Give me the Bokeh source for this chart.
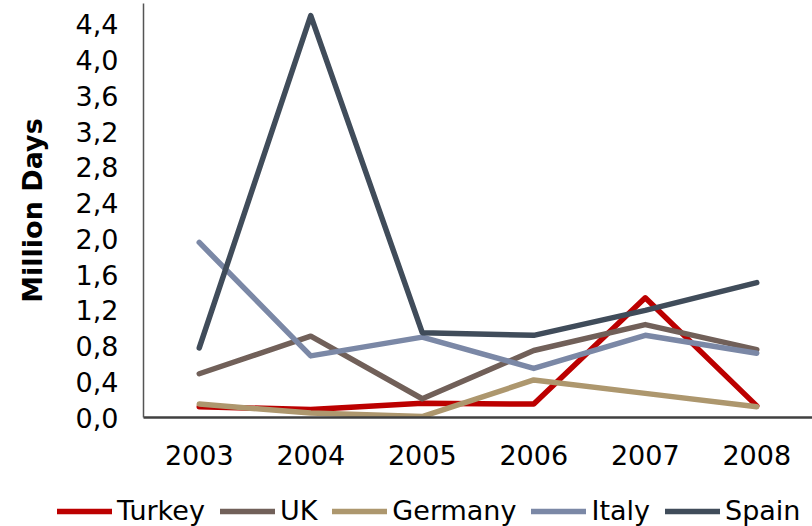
from bokeh.plotting import figure
from bokeh.layouts import column
from bokeh.models import (FactorRange, FixedTicker, CustomJSTickFormatter,
                          Legend, LegendItem, Range1d)
from bokeh.embed import file_html
from bokeh.resources import INLINE

years = ["2003", "2004", "2005", "2006", "2007", "2008"]
turkey = [0.12, 0.09, 0.16, 0.15, 1.34, 0.13]
uk = [0.49, 0.91, 0.21, 0.75, 1.04, 0.76]
germany = [0.15, 0.05, 0.01, 0.42, 0.27, 0.12]
italy = [1.96, 0.69, 0.90, 0.55, 0.92, 0.72]
spain = [0.78, 4.50, 0.95, 0.92, 1.20, 1.51]
y_ticks = [0.0, 0.4, 0.8, 1.2, 1.6, 2.0, 2.4, 2.8, 3.2, 3.6, 4.0, 4.4]

series = [
    ("Turkey", turkey, "#BC0000"),
    ("UK", uk, "#716059"),
    ("Germany", germany, "#AD976E"),
    ("Italy", italy, "#7B88A6"),
    ("Spain", spain, "#404C5A"),
]

FONT = "DejaVu Sans"
FS = "27px"

p = figure(frame_width=669, frame_height=414, x_range=FactorRange(*years),
           y_range=Range1d(0, 4.635), output_backend="svg",
           toolbar_location=None, min_border_left=143, min_border_right=0,
           min_border_top=3, min_border_bottom=63)
p.frame_align = False
p.outline_line_color = None
p.grid.grid_line_color = None

for name, vals, col in series:
    p.line(years, vals, line_color=col, line_width=5.5,
           line_join="round", line_cap="round")

p.yaxis.ticker = FixedTicker(ticks=y_ticks)
p.yaxis.formatter = CustomJSTickFormatter(code="return tick.toFixed(1).replace('.', ',');")
p.yaxis.major_tick_line_color = None
p.yaxis.minor_tick_line_color = None
p.yaxis.major_tick_out = 0
p.yaxis.major_tick_in = 0
p.yaxis.axis_line_color = "#555555"
p.yaxis.axis_line_width = 1.5
p.yaxis.major_label_text_font = FONT
p.yaxis.major_label_text_font_size = FS
p.yaxis.major_label_text_color = "#000000"
p.yaxis.major_label_standoff = 25
p.yaxis.axis_label = "Million Days"
p.yaxis.axis_label_text_font = FONT
p.yaxis.axis_label_text_font_size = FS
p.yaxis.axis_label_text_font_style = "bold"
p.yaxis.axis_label_text_color = "#000000"
p.yaxis.axis_label_standoff = 25

p.xaxis.major_tick_line_color = None
p.xaxis.minor_tick_line_color = None
p.xaxis.major_tick_out = 0
p.xaxis.major_tick_in = 0
p.xaxis.axis_line_color = "#404040"
p.xaxis.axis_line_width = 2.5
p.xaxis.major_label_text_font = FONT
p.xaxis.major_label_text_font_size = FS
p.xaxis.major_label_text_color = "#000000"
p.xaxis.major_label_standoff = 27

# legend strip below the chart (its own lines sit outside its visible range)
lg = figure(width=812, height=46, x_range=FactorRange(*years),
            y_range=Range1d(-10, -9), x_axis_type=None, y_axis_type=None,
            output_backend="svg", toolbar_location=None, min_border=0)
lg.frame_align = False
lg.outline_line_color = None
lg.grid.grid_line_color = None
items = []
for name, vals, col in series:
    r = lg.line(years, vals, line_color=col, line_width=5.5, line_cap="round")
    items.append(LegendItem(label=name, renderers=[r]))

legend = Legend(items=items, orientation="horizontal", location=(57, 0),
                label_text_font=FONT, label_text_font_size=FS,
                label_text_color="#000000", glyph_width=55, glyph_height=20,
                label_standoff=5, spacing=15, padding=0, margin=0,
                border_line_color=None, background_fill_alpha=0)
lg.add_layout(legend, "center")

layout = column(p, lg, spacing=0)
open("out.html", "w").write(file_html(layout, INLINE))
